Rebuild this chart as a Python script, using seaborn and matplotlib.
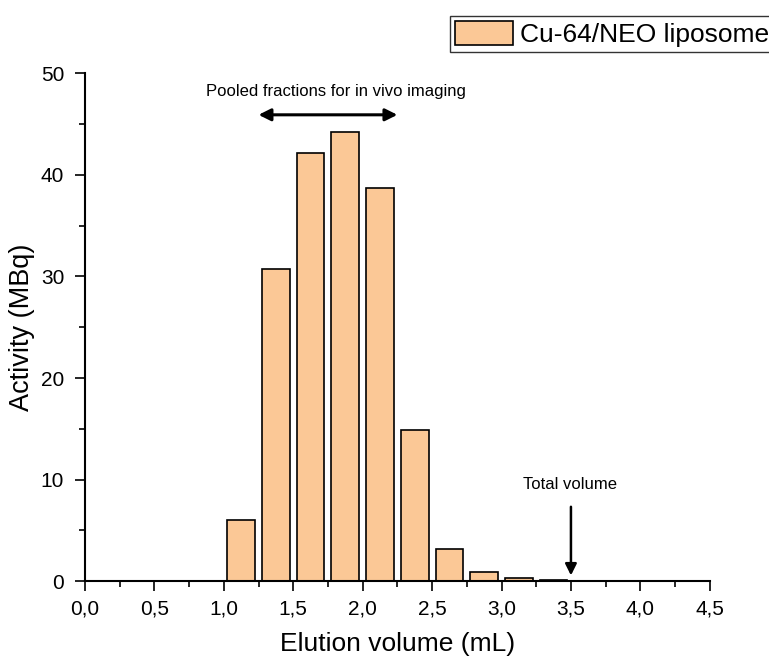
import numpy as np
import pandas as pd
import seaborn as sns
import matplotlib.pyplot as plt
from matplotlib.ticker import FixedLocator, MultipleLocator
from matplotlib.patches import Patch

volume = [1.125, 1.375, 1.625, 1.875, 2.125, 2.375, 2.625, 2.875, 3.125, 3.375]
activity = [6.0, 30.7, 42.1, 44.2, 38.7, 14.9, 3.2, 0.9, 0.3, 0.1]
xticks = [0.0, 0.5, 1.0, 1.5, 2.0, 2.5, 3.0, 3.5, 4.0, 4.5]
xticklabels = ["0,0", "0,5", "1,0", "1,5", "2,0", "2,5", "3,0", "3,5", "4,0", "4,5"]
yticks = [0, 10, 20, 30, 40, 50]
series_name = "Cu-64/NEO liposome"

df = pd.DataFrame({"volume": volume, "activity": activity})

sns.set_style("ticks")
plt.rcParams['font.family'] = ['Liberation Sans', 'DejaVu Sans']
plt.rcParams['text.color'] = 'black'
plt.rcParams['axes.labelcolor'] = 'black'

bar_color = "#FBC896"

fig = plt.figure(figsize=(7.69, 6.59), dpi=100)
ax = fig.add_axes([0.1105, 0.118, 0.8125, 0.771])

sns.barplot(data=df, x="volume", y="activity", native_scale=True, width=0.8,
            color=bar_color, edgecolor="black", linewidth=1.2, saturation=1, ax=ax)

ax.set_xlim(0, 4.5)
ax.set_ylim(0, 50)
ax.xaxis.set_major_locator(FixedLocator(xticks))
ax.set_xticklabels(xticklabels)
ax.xaxis.set_minor_locator(MultipleLocator(0.25))
ax.set_yticks(yticks)
ax.yaxis.set_minor_locator(MultipleLocator(5))
ax.tick_params(axis="x", which="major", pad=6)
ax.tick_params(axis="y", which="major", pad=8)
ax.tick_params(axis="both", which="major", direction="out", length=7, width=1.2,
               labelsize=15, color="black", labelcolor="black")
ax.tick_params(axis="both", which="minor", direction="out", length=4, width=1.2,
               color="black")

for side in ["top", "right"]:
    ax.spines[side].set_visible(False)
for side in ["left", "bottom"]:
    ax.spines[side].set_linewidth(1.5)
    ax.spines[side].set_color("black")

ax.set_xlabel("Elution volume (mL)", fontsize=19, labelpad=10)
ax.set_ylabel("Activity (MBq)", fontsize=19.5, labelpad=4)

# pooled fraction arrow
ax.annotate("", xy=(1.23, 45.9), xytext=(2.27, 45.9),
            arrowprops=dict(arrowstyle="<|-|>", color="black", lw=2.2, mutation_scale=18))
ax.text(1.81, 48.2, "Pooled fractions for in vivo imaging", ha="center", va="center", fontsize=12)

# total volume arrow
ax.annotate("", xy=(3.5, 0.3), xytext=(3.5, 7.6),
            arrowprops=dict(arrowstyle="-|>", color="black", lw=1.8, mutation_scale=17))
ax.text(3.49, 9.5, "Total volume", ha="center", va="center", fontsize=12)

handle = Patch(facecolor=bar_color, edgecolor="black", linewidth=1.2)
leg = fig.legend([handle], [series_name], loc="upper left", bbox_to_anchor=(0.585, 0.976),
                 borderaxespad=0, fontsize=19, frameon=True, fancybox=False, edgecolor="black",
                 handlelength=2.2, handleheight=1.0, borderpad=0.2, handletextpad=0.25)
leg.get_frame().set_linewidth(1.0)

fig.savefig("out.png", dpi=100)
